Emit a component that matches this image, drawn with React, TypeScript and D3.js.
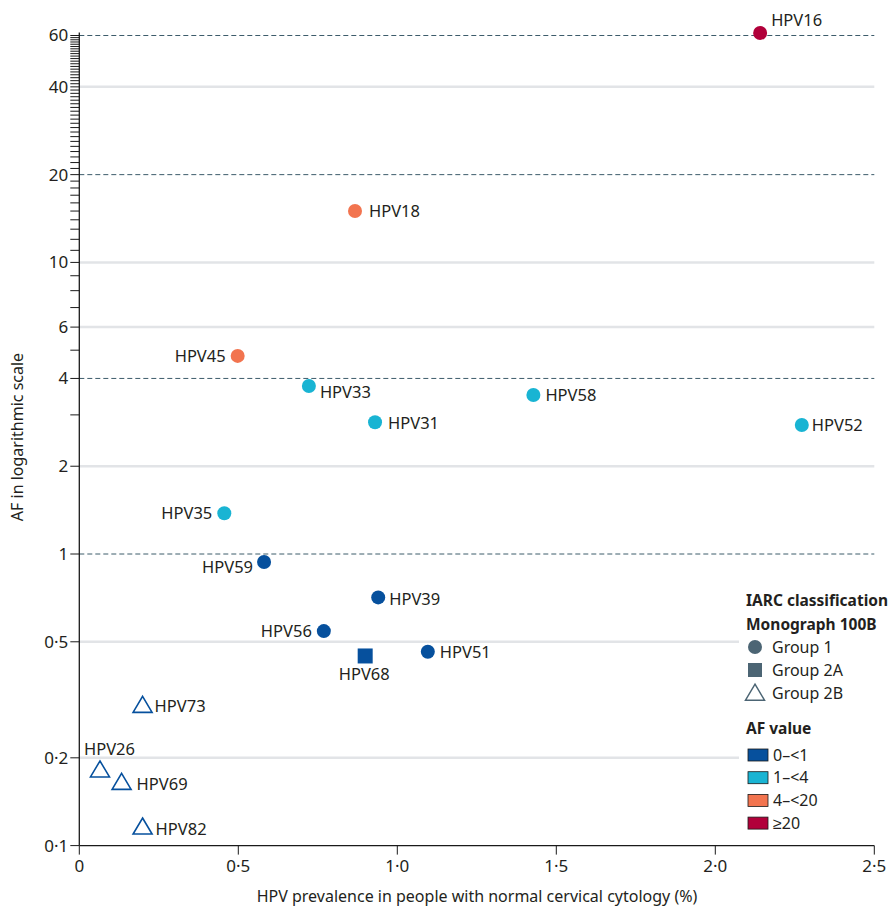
import React from "react";
import * as d3 from "d3";

const names = ["HPV16","HPV18","HPV45","HPV33","HPV58","HPV31","HPV52","HPV35","HPV59","HPV39","HPV56","HPV68","HPV51","HPV73","HPV26","HPV69","HPV82"];
const prevalence = [2.141,0.867,0.498,0.722,1.428,0.930,2.272,0.456,0.581,0.940,0.769,0.899,1.096,0.199,0.065,0.133,0.199];
const afValues = [61.2,15.0,4.78,3.77,3.51,2.83,2.77,1.38,0.939,0.710,0.544,0.447,0.462,0.303,0.182,0.165,0.116];
const groups = ["1","1","1","1","1","1","1","1","1","1","1","2A","1","2B","2B","2B","2B"];

const xTicks = [0, 0.5, 1.0, 1.5, 2.0, 2.5];
const yTickLabels = [60, 40, 20, 10, 6, 4, 2, 1, 0.5, 0.2, 0.1];
const dashedLines = [60, 20, 4, 1];
const solidLines = [40, 10, 6, 2, 0.5, 0.2];
const afBins = ["0\u2013<1", "1\u2013<4", "4\u2013<20", "\u226520"];
const afColors = ["#06509d", "#19b4d3", "#f2744f", "#b1003a"];
const groupLabels = ["Group 1", "Group 2A", "Group 2B"];

// label layout: [anchor, dx, dy]
const labelLayout: Record<string, [string, number, number]> = {
  HPV16: ["start", 11, -13],
  HPV18: ["start", 14, 0],
  HPV45: ["end", -12, 0],
  HPV33: ["start", 11, 6],
  HPV58: ["start", 12, 0],
  HPV31: ["start", 13, 1],
  HPV52: ["start", 10, 0],
  HPV35: ["end", -12, 0],
  HPV59: ["end", -11, 5],
  HPV39: ["start", 11, 2],
  HPV56: ["end", -12, 0],
  HPV68: ["middle", -1, 18],
  HPV51: ["start", 12, 0],
  HPV73: ["start", 12, 1],
  HPV26: ["start", -16, -21],
  HPV69: ["start", 15, 2.5],
  HPV82: ["start", 13, 2],
};

const FONT = "'Noto Sans', sans-serif";
const TEXT = "#231f20";

function afColor(v: number) {
  if (v < 1) return afColors[0];
  if (v < 4) return afColors[1];
  if (v < 20) return afColors[2];
  return afColors[3];
}

function fmt(v: number | string) {
  return String(v).replace(".", "\u00b7");
}

export default function App() {
  const W = 895, H = 915;
  const x = d3.scaleLinear().domain([0, 2.5]).range([79.3, 874.3]);
  const y = d3.scaleLog().domain([0.1, 60]).range([845.6, 35.5]);
  const x0 = x(0), x1 = x(2.5);
  const minorTicks = d3.range(1, 61);
  const tri = (cx: number, cy: number, w: number, h: number) =>
    `M${cx},${cy - h * 0.55} L${cx + w / 2},${cy + h * 0.45} L${cx - w / 2},${cy + h * 0.45} Z`;

  return (
    <svg width={W} height={H} style={{ position: "absolute", left: 0, top: 0, background: "#fff" }} fontFamily={FONT}>
      {solidLines.map((v) => (
        <line key={"s" + v} x1={x0} x2={x1} y1={y(v)} y2={y(v)} stroke="#e2e4e7" strokeWidth={2.5} />
      ))}
      {dashedLines.map((v) => (
        <line key={"d" + v} x1={x0} x2={x1} y1={y(v)} y2={y(v)} stroke="#3d5c6b" strokeWidth={1} strokeDasharray="5,3" />
      ))}
      <rect x={739} y={585} width={156} height={250} fill="#fff" />
      <line x1={x0} x2={x0} y1={y(60) - 3} y2={y(0.1)} stroke="#1a1a1a" strokeWidth={1.3} />
      {minorTicks.map((v) => (
        <line key={"mt" + v} x1={x0 - 9} x2={x0} y1={y(v)} y2={y(v)} stroke="#1a1a1a" strokeWidth={1} />
      ))}
      {[0.5, 0.2, 0.1].map((v) => (
        <line key={"lt" + v} x1={x0 - 9} x2={x0} y1={y(v)} y2={y(v)} stroke="#1a1a1a" strokeWidth={1} />
      ))}
      {yTickLabels.map((v) => (
        <text key={"yl" + v} x={x0 - 11} y={y(v)} dy="0.35em" textAnchor="end" fontSize={17} fill={TEXT}>
          {fmt(v)}
        </text>
      ))}
      <line x1={x0} x2={x1} y1={y(0.1)} y2={y(0.1)} stroke="#1a1a1a" strokeWidth={1.3} />
      {xTicks.map((v) => (
        <g key={"xt" + v}>
          <line x1={x(v)} x2={x(v)} y1={y(0.1)} y2={y(0.1) + 9} stroke="#1a1a1a" strokeWidth={1} />
          <text x={x(v)} y={y(0.1) + 20} dy="0.35em" textAnchor="middle" fontSize={17} fill={TEXT}>
            {v === 0 ? "0" : fmt(v.toFixed(1))}
          </text>
        </g>
      ))}
      <text x={477} y={896} dy="0.35em" textAnchor="middle" fontSize={16} fill={TEXT}>
        HPV prevalence in people with normal cervical cytology (%)
      </text>
      <text transform={`translate(17,437) rotate(-90)`} dy="0.35em" textAnchor="middle" fontSize={16} fill={TEXT}>
        AF in logarithmic scale
      </text>
      {names.map((n, i) => {
        const cx = x(prevalence[i]);
        const cy = y(afValues[i]);
        const c = afColor(afValues[i]);
        const [anchor, dx, dy] = labelLayout[n];
        let mark;
        if (groups[i] === "1") mark = <circle cx={cx} cy={cy} r={7} fill={c} />;
        else if (groups[i] === "2A") mark = <rect x={cx - 7.5} y={cy - 7.5} width={15} height={15} fill={c} />;
        else mark = <path d={tri(cx, cy, 19, 16)} fill="none" stroke={c} strokeWidth={1.6} />;
        return (
          <g key={n}>
            {mark}
            <text x={cx + dx} y={cy + dy} dy="0.35em" textAnchor={anchor as any} fontSize={16.5} fill={TEXT}>
              {n}
            </text>
          </g>
        );
      })}
      <g fontSize={15.5} fill={TEXT}>
        <text x={746} y={601} dy="0.35em" fontWeight="bold">IARC classification</text>
        <text x={746} y={625} dy="0.35em" fontWeight="bold">Monograph 100B</text>
        <circle cx={755} cy={647} r={7} fill="#4c6574" />
        <rect x={748} y={663} width={14} height={14} fill="#4c6574" />
        <path d={tri(755, 693, 19, 16)} fill="none" stroke="#4c6574" strokeWidth={1.5} />
        {groupLabels.map((g, i) => (
          <text key={g} x={772} y={647 + i * 23} dy="0.35em" fontSize={16}>{g}</text>
        ))}
        <text x={746} y={729} dy="0.35em" fontWeight="bold">AF value</text>
        {afBins.map((b, i) => (
          <g key={b}>
            <rect x={748} y={749 + i * 22.7} width={20} height={12} fill={afColors[i]} stroke="#1a1a1a" strokeWidth={0.8} />
            <text x={773} y={755 + i * 22.7} dy="0.35em" fontSize={16}>{b}</text>
          </g>
        ))}
      </g>
    </svg>
  );
}
